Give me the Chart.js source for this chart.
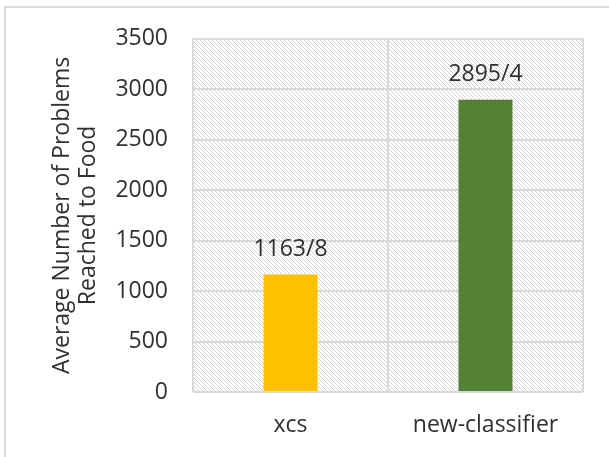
<!DOCTYPE html>
<html>
<head>
<meta charset="utf-8">
<script src="https://cdn.jsdelivr.net/npm/chart.js@4.4.0/dist/chart.umd.min.js"></script>
<style>
  html, body { margin: 0; padding: 0; background: #fff; }
  #wrap { width: 609px; height: 457px; position: relative; }
</style>
</head>
<body>
<div id="wrap"><canvas id="chart"></canvas></div>
<script>
/* ================= DATA ================= */

const categories = ["xcs", "new-classifier"];
const values = [1163.8, 2895.4];
const barColors = ["#FFC000", "#548235"];
const yTicks = [0, 500, 1000, 1500, 2000, 2500, 3000, 3500];
const yTitle = ["Average Number of Problems", "Reached to Food"];

const FONT = "'Open Sans', sans-serif";
const TEXT = "#303030";
const GRID = "#d9d9d9";

/* ================= HATCH PATTERN ================= */

function makeHatch() {
  const c = document.createElement("canvas");
  c.width = 4;
  c.height = 4;
  const g = c.getContext("2d");
  g.fillStyle = "#ffffff";
  g.fillRect(0, 0, 4, 4);
  g.strokeStyle = "#d4d4d4";
  g.lineWidth = 1;
  g.beginPath();
  g.moveTo(-1, -1); g.lineTo(5, 5);
  g.moveTo(-1, 3); g.lineTo(1, 5);
  g.moveTo(3, -1); g.lineTo(5, 1);
  g.stroke();
  return c;
}

/* ================= PLUGINS ================= */

const backdrop = {
  id: "backdrop",
  beforeDraw(chart) {
    const { ctx, chartArea: a } = chart;
    ctx.save();
    ctx.strokeStyle = GRID;
    ctx.lineWidth = 2;
    ctx.strokeRect(5, 7, 800, 600);
    ctx.fillStyle = ctx.createPattern(makeHatch(), "repeat");
    ctx.fillRect(a.left, a.top, a.right - a.left, a.bottom - a.top);
    ctx.restore();
  }
};

const barLabels = {
  id: "barLabels",
  afterDatasetsDraw(chart) {
    const { ctx } = chart;
    const meta = chart.getDatasetMeta(0);
    ctx.save();
    ctx.font = "23px " + FONT;
    ctx.fillStyle = TEXT;
    ctx.textAlign = "center";
    ctx.textBaseline = "middle";
    meta.data.forEach((bar, i) => {
      const txt = String(values[i]).replace(".", "/");
      ctx.fillText(txt, bar.x, bar.y - 25);
    });
    ctx.restore();
  }
};

/* ================= CHART ================= */

new Chart(document.getElementById("chart"), {
  type: "bar",
  data: {
    labels: categories,
    datasets: [{
      data: values,
      backgroundColor: barColors,
      barPercentage: 0.277,
      categoryPercentage: 1,
    }],
  },
  options: {
    responsive: true,
    maintainAspectRatio: false,
    animation: false,
    layout: { padding: { top: 36, right: 26, bottom: 0, left: 0 } },
    plugins: {
      legend: { display: false },
      tooltip: { enabled: false },
    },
    scales: {
      x: {
        offset: true,
        grid: { offset: true, color: GRID, lineWidth: 2, drawTicks: false },
        border: { display: false },
        ticks: { font: { family: FONT, size: 23 }, color: TEXT, padding: 20 },
        afterFit: s => { s.height = 65; },
      },
      y: {
        min: 0,
        max: 3500,
        afterBuildTicks: s => { s.ticks = yTicks.map(v => ({ value: v })); },
        grid: { color: GRID, lineWidth: 2, drawTicks: false },
        border: { display: false },
        ticks: {
          font: { family: FONT, size: 23 },
          color: TEXT,
          padding: 25,
          callback: v => String(v),
        },
        title: {
          display: true,
          text: yTitle,
          font: { family: FONT, size: 23, lineHeight: "26px" },
          color: TEXT,
          padding: { top: 49, bottom: 0 },
        },
        afterFit: s => { s.width = 193; },
      },
    },
  },
  plugins: [backdrop, barLabels],
});
</script>
</body>
</html>
